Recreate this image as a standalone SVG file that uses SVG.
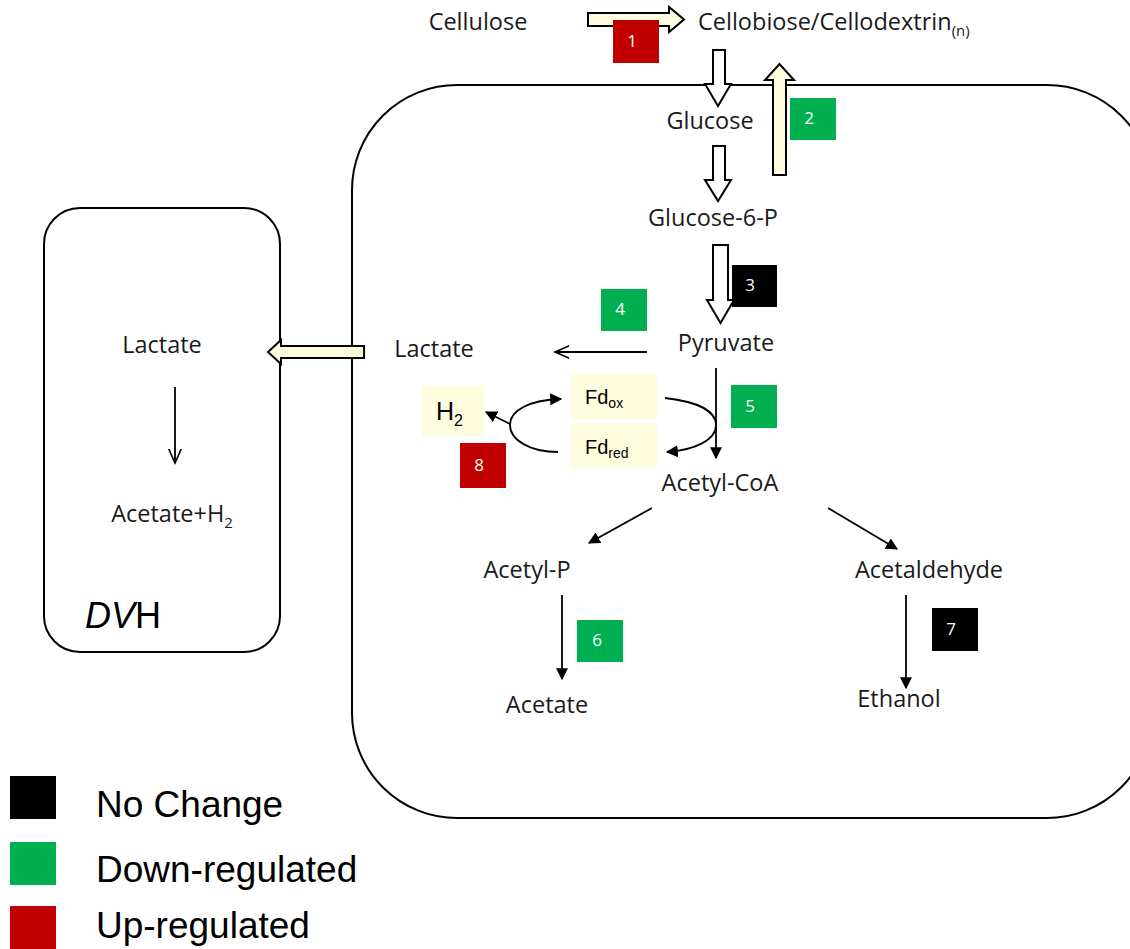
<svg xmlns="http://www.w3.org/2000/svg" width="1130" height="949" viewBox="0 0 1130 949">
<style>
.t{font-family:"Open Sans","Liberation Sans",sans-serif;font-size:23.5px;fill:#1a1a1a}
.b{font-family:"Open Sans","Liberation Sans",sans-serif;font-size:17px;fill:#ffffff;text-anchor:middle}
.lg{font-family:"Liberation Sans",Arial,sans-serif;font-size:37px;fill:#000}
.red{fill:#c00000}.grn{fill:#00b050}.blk{fill:#000}
.hollow{fill:#ffffff;stroke:#000;stroke-width:2}
.yel{fill:#fffde0;stroke:#000;stroke-width:2}
.ln{stroke:#000;stroke-width:1.8;fill:none}
.box{fill:#fffde0}
</style>
<defs>
<marker id="ftri" viewBox="0 0 10 10" refX="9" refY="5" markerWidth="12" markerHeight="12" markerUnits="userSpaceOnUse" orient="auto">
<path d="M0,0 L10,5 L0,10 z" fill="#000"/>
</marker>
<marker id="open" viewBox="0 0 10 10" refX="9" refY="5" markerWidth="16" markerHeight="16" markerUnits="userSpaceOnUse" orient="auto">
<path d="M0,1 L9,5 L0,9" fill="none" stroke="#000" stroke-width="1"/>
</marker>
</defs>

<g id="cell">
<rect x="352" y="85" width="800" height="733" rx="105" ry="105" fill="none" stroke="#000" stroke-width="2"/>
</g>
<g id="dvh">
<rect x="44" y="208" width="236" height="444" rx="36" ry="36" fill="none" stroke="#000" stroke-width="2"/>
<text x="85" y="628" font-family="Liberation Sans, Arial, sans-serif" font-size="36" fill="#000"><tspan font-style="italic">DV</tspan>H</text>
</g>

<g id="connectors">
<path class="yel" d="M588,13 L669,13 L669,7 L684,19.5 L669,32 L669,26 L588,26 z"/>
<path class="hollow" d="M713,50 L725,50 L725,84 L731,84 L718,106 L705,84 L713,84 z"/>
<path class="yel" d="M773,175 L773,80 L765,80 L779.5,64 L794,80 L786,80 L786,175 z"/>
<path class="hollow" d="M713,146 L725,146 L725,180 L731,180 L718,201 L705,180 L713,180 z"/>
<path class="hollow" d="M713,245 L728,245 L728,300 L734,300 L720.5,323 L707,300 L713,300 z"/>
<path class="yel" d="M364,346 L281,346 L281,340 L268,352 L281,364 L281,358 L364,358 z"/>
<line class="ln" x1="647" y1="352" x2="555" y2="352" marker-end="url(#open)"/>
<line class="ln" x1="175" y1="387" x2="175" y2="463" marker-end="url(#open)"/>
<line class="ln" x1="716" y1="368" x2="716" y2="458" marker-end="url(#ftri)"/>
<path class="ln" d="M665,398 C700,402 716,412 716,425 C716,440 695,450 667,452" marker-end="url(#ftri)"/>
<path class="ln" d="M558,452 C530,452 510,440 510,425 C510,410 530,400 561,399" marker-end="url(#ftri)"/>
<line class="ln" x1="510" y1="424" x2="486" y2="412" marker-end="url(#ftri)"/>
<line class="ln" x1="652" y1="508" x2="589" y2="543" marker-end="url(#ftri)"/>
<line class="ln" x1="828" y1="508" x2="897" y2="549" marker-end="url(#ftri)"/>
<line class="ln" x1="562" y1="595" x2="562" y2="679" marker-end="url(#ftri)"/>
<line class="ln" x1="906" y1="595" x2="906" y2="688" marker-end="url(#ftri)"/>
</g>

<g id="n-cellulose"><text class="t" x="478" y="30" text-anchor="middle">Cellulose</text></g>
<g id="n-cellobiose"><text class="t" x="698" y="30">Cellobiose/Cellodextrin<tspan font-size="15" dy="6">(n)</tspan></text></g>
<g id="n-glucose"><text class="t" x="710" y="129" text-anchor="middle">Glucose</text></g>
<g id="n-g6p"><text class="t" x="713" y="226" text-anchor="middle">Glucose-6-P</text></g>
<g id="n-pyruvate"><text class="t" x="726" y="351" text-anchor="middle">Pyruvate</text></g>
<g id="n-lactate-in"><text class="t" x="434" y="357" text-anchor="middle">Lactate</text></g>
<g id="n-lactate-out"><text class="t" x="162" y="353" text-anchor="middle">Lactate</text></g>
<g id="n-acetate-h2"><text class="t" x="172" y="522" text-anchor="middle">Acetate+H<tspan font-size="15" dy="6">2</tspan></text></g>
<g id="n-fdox"><rect class="box" x="570" y="373" width="87" height="46"/><text x="585" y="404" font-family="Liberation Sans, Arial, sans-serif" font-size="20" fill="#000">Fd<tspan font-size="14" dy="4">ox</tspan></text></g>
<g id="n-fdred"><rect class="box" x="570" y="423" width="87" height="45"/><text x="585" y="454" font-family="Liberation Sans, Arial, sans-serif" font-size="20" fill="#000">Fd<tspan font-size="14" dy="4">red</tspan></text></g>
<g id="n-h2"><rect class="box" x="422" y="386" width="62" height="50"/><text x="436" y="420" font-family="Liberation Sans, Arial, sans-serif" font-size="25" fill="#000">H<tspan font-size="16" dy="6">2</tspan></text></g>
<g id="n-acetylcoa"><text class="t" x="720" y="491" text-anchor="middle">Acetyl-CoA</text></g>
<g id="n-acetylp"><text class="t" x="527" y="578" text-anchor="middle">Acetyl-P</text></g>
<g id="n-acetaldehyde"><text class="t" x="855" y="578">Acetaldehyde</text></g>
<g id="n-acetate"><text class="t" x="547" y="713" text-anchor="middle">Acetate</text></g>
<g id="n-ethanol"><text class="t" x="899" y="707" text-anchor="middle">Ethanol</text></g>

<g id="badge1"><rect class="red" x="613" y="20" width="46" height="43"/><text class="b" x="632" y="47">1</text></g>
<g id="badge2"><rect class="grn" x="790" y="98" width="46" height="42"/><text class="b" x="809" y="124">2</text></g>
<g id="badge3"><rect class="blk" x="732" y="265" width="45" height="42"/><text class="b" x="750" y="291">3</text></g>
<g id="badge4"><rect class="grn" x="601" y="289" width="46" height="42"/><text class="b" x="620" y="315">4</text></g>
<g id="badge5"><rect class="grn" x="731" y="385" width="46" height="43"/><text class="b" x="750" y="412">5</text></g>
<g id="badge6"><rect class="grn" x="577" y="620" width="46" height="42"/><text class="b" x="597" y="646">6</text></g>
<g id="badge7"><rect class="blk" x="932" y="608" width="46" height="43"/><text class="b" x="951" y="635">7</text></g>
<g id="badge8"><rect class="red" x="460" y="443" width="46" height="45"/><text class="b" x="479" y="471">8</text></g>

<g id="legend">
<rect class="blk" x="10" y="776" width="46" height="43"/>
<text class="lg" x="96" y="817">No Change</text>
<rect class="grn" x="10" y="842" width="46" height="43"/>
<text class="lg" x="96" y="882">Down-regulated</text>
<rect class="red" x="10" y="906" width="46" height="43"/>
<text class="lg" x="96" y="938">Up-regulated</text>
</g>
</svg>
